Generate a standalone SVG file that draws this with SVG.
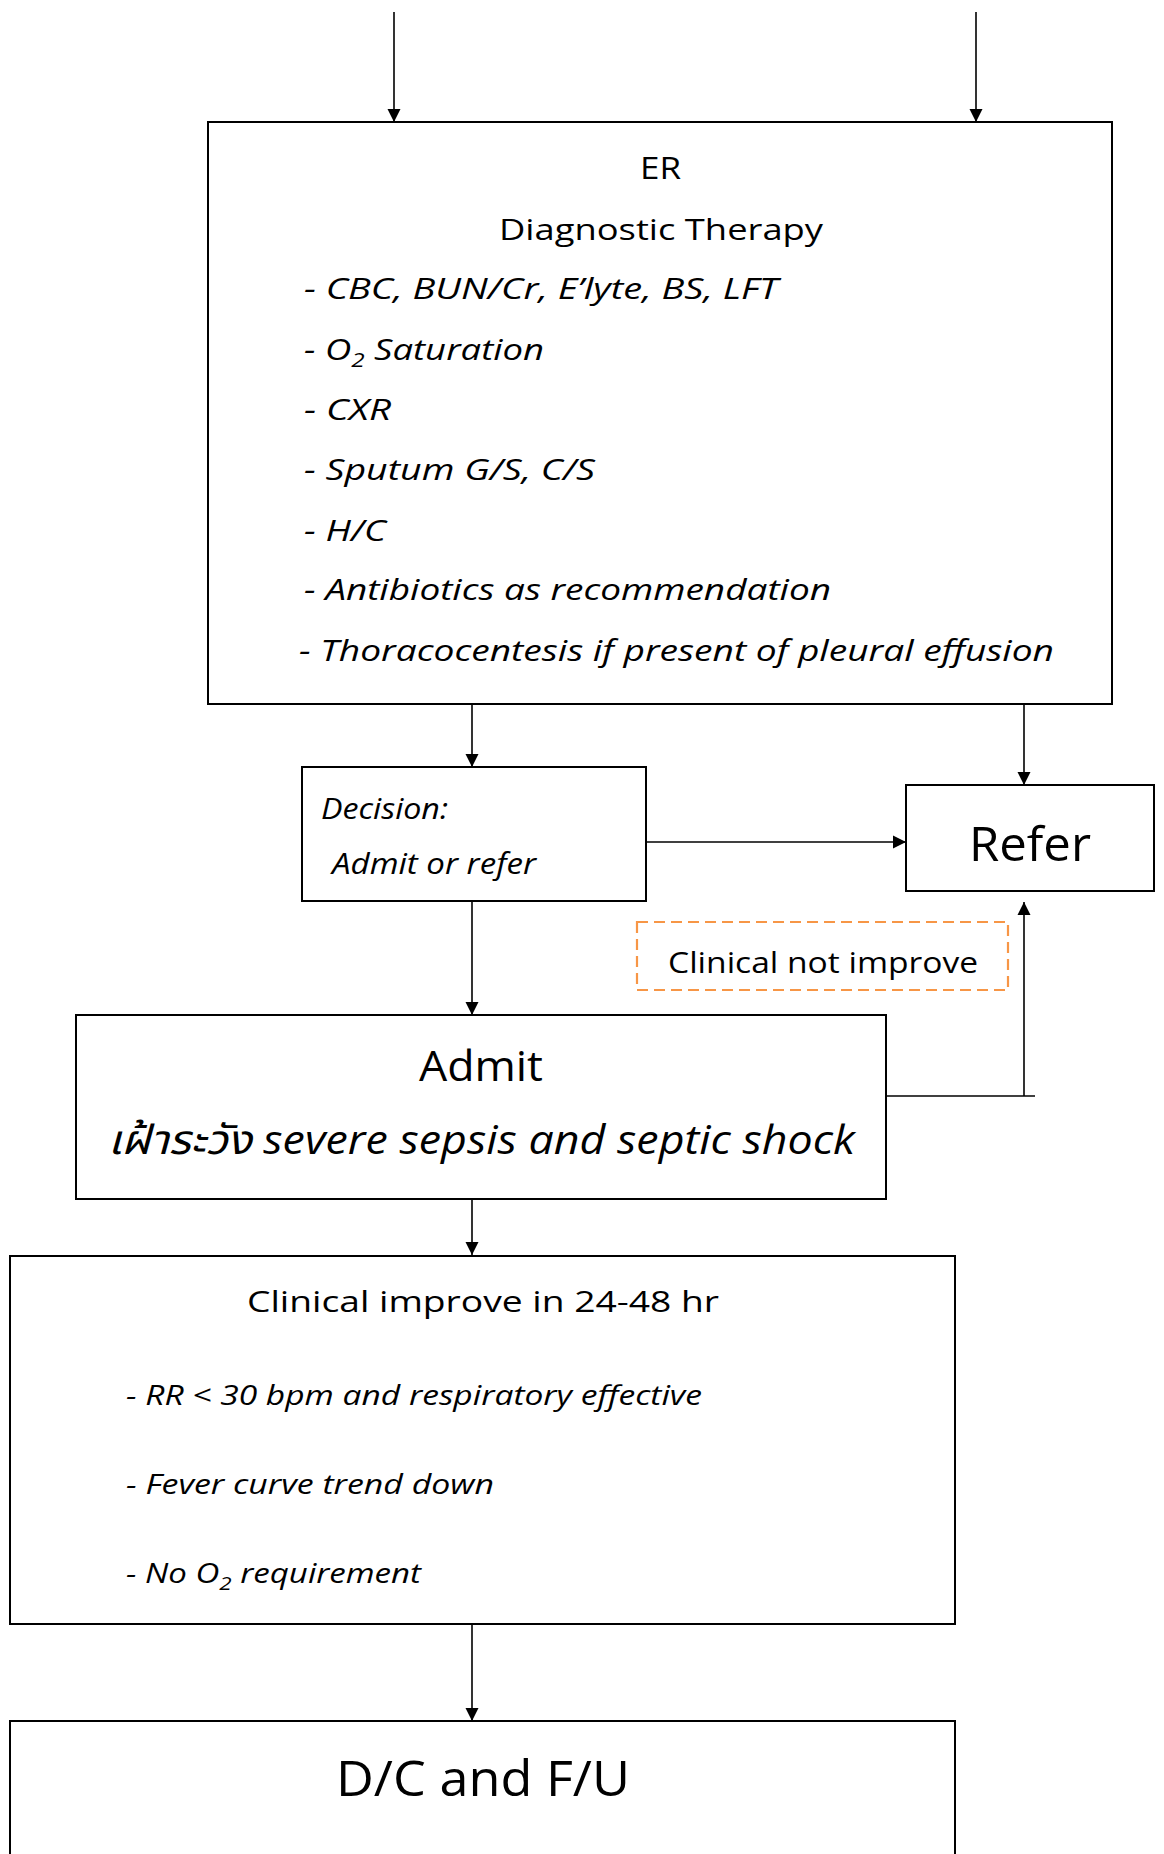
<svg xmlns="http://www.w3.org/2000/svg" width="1164" height="1854" viewBox="0 0 1164 1854">
<style>
  .box{fill:#fff;stroke:#000;stroke-width:2}
  .dash{fill:none;stroke:#F79646;stroke-width:2.2;stroke-dasharray:11,6}
  .t{font-family:"Open Sans","Noto Sans","Noto Sans Thai","Leelawadee UI",sans-serif;fill:#000}
  .i{font-style:italic}
  .c{text-anchor:middle}
  .ln{fill:none;stroke:#000;stroke-width:1.6}
</style>
<defs>
  <marker id="ah" markerUnits="userSpaceOnUse" markerWidth="14" markerHeight="14" refX="13" refY="7" orient="auto">
    <path d="M0,0.5 L13,7 L0,13.5 z" fill="#000"/>
  </marker>
</defs>
<rect width="1164" height="1854" fill="#fff"/>

<g id="er">
  <rect class="box" x="208" y="122" width="904" height="582"/>
  <text class="t" x="640" y="179" font-size="31" textLength="41" lengthAdjust="spacingAndGlyphs">ER</text>
  <text class="t" x="499" y="240" font-size="30" textLength="324" lengthAdjust="spacingAndGlyphs">Diagnostic Therapy</text>
  <text class="t i" x="304" y="299" font-size="30" textLength="474" lengthAdjust="spacingAndGlyphs">- CBC, BUN/Cr, E’lyte, BS, LFT</text>
  <text class="t i" x="304" y="360" font-size="30" textLength="240" lengthAdjust="spacingAndGlyphs">- O<tspan font-size="20" dy="7">2</tspan><tspan dy="-7"> Saturation</tspan></text>
  <text class="t i" x="304" y="420" font-size="30" textLength="87" lengthAdjust="spacingAndGlyphs">- CXR</text>
  <text class="t i" x="304" y="480" font-size="30" textLength="291" lengthAdjust="spacingAndGlyphs">- Sputum G/S, C/S</text>
  <text class="t i" x="304" y="541" font-size="30" textLength="82" lengthAdjust="spacingAndGlyphs">- H/C</text>
  <text class="t i" x="304" y="600" font-size="30" textLength="527" lengthAdjust="spacingAndGlyphs">- Antibiotics as recommendation</text>
  <text class="t i" x="299" y="661" font-size="30" textLength="755" lengthAdjust="spacingAndGlyphs">- Thoracocentesis if present of pleural effusion</text>
</g>

<g id="decision">
  <rect class="box" x="302" y="767" width="344" height="134"/>
  <text class="t i" x="321" y="819" font-size="30" textLength="127" lengthAdjust="spacingAndGlyphs">Decision:</text>
  <text class="t i" x="332" y="874" font-size="30" textLength="204" lengthAdjust="spacingAndGlyphs">Admit or refer</text>
</g>

<g id="refer">
  <rect class="box" x="906" y="785" width="248" height="106"/>
  <text class="t" x="969" y="861" font-size="48" textLength="122" lengthAdjust="spacingAndGlyphs">Refer</text>
</g>

<g id="not-improve">
  <rect class="dash" x="637" y="922" width="371" height="68"/>
  <text class="t" x="668" y="973" font-size="29" textLength="310" lengthAdjust="spacingAndGlyphs">Clinical not improve</text>
</g>

<g id="admit">
  <rect class="box" x="76" y="1015" width="810" height="184"/>
  <text class="t" x="419" y="1081" font-size="42" textLength="124" lengthAdjust="spacingAndGlyphs">Admit</text>
  <text class="t i" x="108" y="1154" font-size="41" textLength="747" lengthAdjust="spacingAndGlyphs">เฝ้าระวัง severe sepsis and septic shock</text>
</g>

<g id="improve">
  <rect class="box" x="10" y="1256" width="945" height="368"/>
  <text class="t" x="247" y="1312" font-size="30" textLength="472" lengthAdjust="spacingAndGlyphs">Clinical improve in 24-48 hr</text>
  <text class="t i" x="126" y="1405" font-size="28" textLength="576" lengthAdjust="spacingAndGlyphs">- RR &lt; 30 bpm and respiratory effective</text>
  <text class="t i" x="126" y="1494" font-size="28" textLength="368" lengthAdjust="spacingAndGlyphs">- Fever curve trend down</text>
  <text class="t i" x="126" y="1583" font-size="28" textLength="295" lengthAdjust="spacingAndGlyphs">- No O<tspan font-size="19" dy="7">2</tspan><tspan dy="-7"> requirement</tspan></text>
</g>

<g id="dcfu">
  <rect class="box" x="10" y="1721" width="945" height="200"/>
  <text class="t" x="336" y="1796" font-size="49" textLength="294" lengthAdjust="spacingAndGlyphs">D/C and F/U</text>
</g>

<g id="connectors">
  <path class="ln" d="M394,12 V122" marker-end="url(#ah)"/>
  <path class="ln" d="M976,12 V122" marker-end="url(#ah)"/>
  <path class="ln" d="M472,704 V767" marker-end="url(#ah)"/>
  <path class="ln" d="M1024,704 V785" marker-end="url(#ah)"/>
  <path class="ln" d="M646,842 H906" marker-end="url(#ah)"/>
  <path class="ln" d="M472,901 V1015" marker-end="url(#ah)"/>
  <path class="ln" d="M886,1096 H1035"/>
  <path class="ln" d="M1024,1096 V902" marker-end="url(#ah)"/>
  <path class="ln" d="M472,1199 V1255" marker-end="url(#ah)"/>
  <path class="ln" d="M472,1624 V1721" marker-end="url(#ah)"/>
</g>
</svg>
